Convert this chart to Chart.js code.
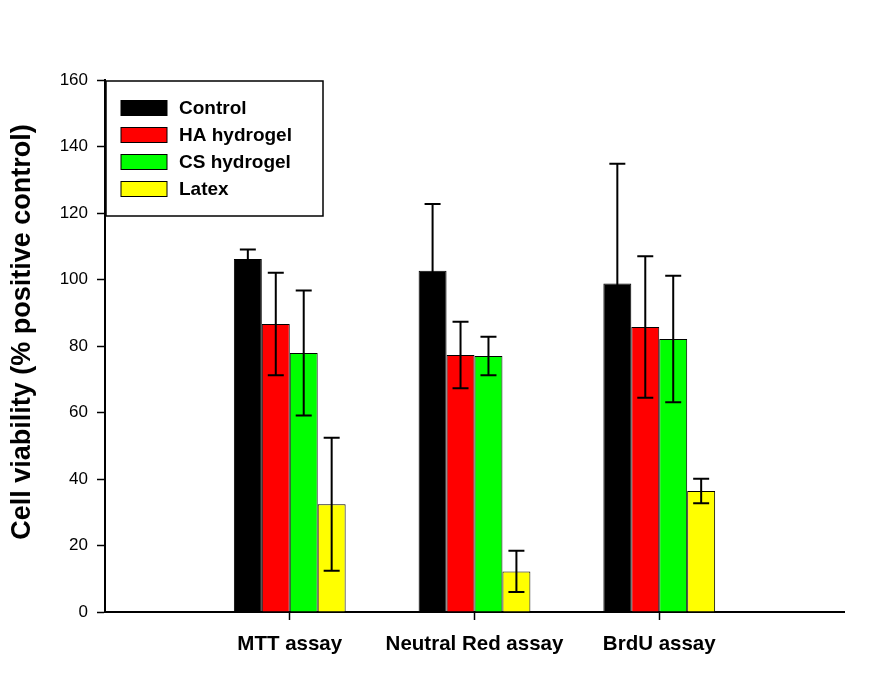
<!DOCTYPE html>
<html>
<head>
<meta charset="utf-8">
<script src="https://cdn.jsdelivr.net/npm/chart.js@4.4.1/dist/chart.umd.min.js"></script>
<style>
  body { margin: 0; background: #ffffff; }
  #wrap { width: 888px; height: 679px; }
</style>
</head>
<body>
<div id="wrap"><canvas id="viabilityChart" width="888" height="679"></canvas></div>
<script>
// assays on the x axis, empty slots at both ends keep the axis running 0..4
const assays = ['MTT assay', 'Neutral Red assay', 'BrdU assay'];
const seriesNames = ['Control', 'HA hydrogel', 'CS hydrogel', 'Latex'];
const seriesColors = ['#000000', '#ff0000', '#00ff00', '#ffff00'];

// means (% positive control)
const control = [106.2, 102.6, 98.8];
const haHydrogel = [86.6, 77.3, 85.7];
const csHydrogel = [77.9, 77.0, 82.1];
const latex = [32.4, 12.2, 36.4];

// error bar half-lengths
const controlErr = [2.8, 20.1, 36.0];
const haErr = [15.4, 10.0, 21.3];
const csErr = [18.8, 5.8, 19.0];
const latexErr = [20.0, 6.2, 3.7];

const yTicks = [0, 20, 40, 60, 80, 100, 120, 140, 160];
const yTitle = 'Cell viability (% positive control)';

const means = [control, haHydrogel, csHydrogel, latex];
const errs = [controlErr, haErr, csErr, latexErr];
const pad = arr => [null, ...arr, null];

const fontFamily = '"Liberation Sans", Arial, sans-serif';

// error bars: drawn on top of the bars through the y scale
const errorBars = {
    id: 'errorBars',
    afterDatasetsDraw(chart) {
        const ctx = chart.ctx;
        const yScale = chart.scales.y;
        ctx.save();
        ctx.strokeStyle = '#000000';
        ctx.lineWidth = 2;
        chart.data.datasets.forEach((ds, i) => {
            const meta = chart.getDatasetMeta(i);
            meta.data.forEach((bar, j) => {
                const v = ds.data[j];
                const e = ds.errors[j];
                if (v === null || e === null || e === undefined) return;
                const x = bar.x;
                const yTop = yScale.getPixelForValue(v + e);
                const yBot = yScale.getPixelForValue(v - e);
                const cap = 8;
                ctx.beginPath();
                ctx.moveTo(x, yTop);
                ctx.lineTo(x, yBot);
                ctx.moveTo(x - cap, yTop);
                ctx.lineTo(x + cap, yTop);
                ctx.moveTo(x - cap, yBot);
                ctx.lineTo(x + cap, yBot);
                ctx.stroke();
            });
        });
        ctx.restore();
    }
};

// boxed legend in the top-left corner of the plot, plus the y title
const boxLegend = {
    id: 'boxLegend',
    afterDraw(chart) {
        const ctx = chart.ctx;
        const area = chart.chartArea;
        const left = area.left + 1;
        const top = area.top + 1;
        ctx.save();
        ctx.fillStyle = '#ffffff';
        ctx.fillRect(left, top, 217, 135);
        ctx.strokeStyle = '#000000';
        ctx.lineWidth = 1.5;
        ctx.strokeRect(left, top, 217, 135);
        ctx.font = 'bold 19px ' + fontFamily;
        ctx.textBaseline = 'middle';
        chart.data.datasets.forEach((ds, i) => {
            const cy = top + 27 + i * 27;
            ctx.fillStyle = ds.backgroundColor;
            ctx.fillRect(left + 15, cy - 7.5, 46, 15);
            ctx.lineWidth = 1;
            ctx.strokeRect(left + 15, cy - 7.5, 46, 15);
            ctx.fillStyle = '#000000';
            ctx.fillText(ds.label, left + 73, cy + 1);
        });

        // y axis title, sits a little above the middle of the axis
        ctx.translate(23, (area.top + area.bottom) / 2 - 14);
        ctx.rotate(-Math.PI / 2);
        ctx.font = 'bold 27px ' + fontFamily;
        ctx.textAlign = 'center';
        ctx.textBaseline = 'middle';
        ctx.fillStyle = '#000000';
        ctx.fillText(yTitle, 0, 0);
        ctx.restore();
    }
};

const ctx = document.getElementById('viabilityChart').getContext('2d');
const myChart = new Chart(ctx, {
    type: 'bar',
    data: {
        labels: ['', ...assays, ''],
        datasets: seriesNames.map((name, i) => ({
            label: name,
            data: pad(means[i]),
            errors: pad(errs[i]),
            backgroundColor: seriesColors[i],
            borderColor: '#000000',
            borderWidth: 1,
            barPercentage: 1,
            categoryPercentage: 0.605,
        }))
    },
    options: {
        responsive: false,
        animation: false,
        layout: {
            padding: { top: 80, right: 44, bottom: 0, left: 0 }
        },
        scales: {
            x: {
                offset: false,
                afterFit: scale => { scale.height = 67; },
                grid: {
                    offset: false,
                    drawOnChartArea: false,
                    tickLength: 8,
                    tickWidth: 1.5,
                    tickColor: c => (c.index === 0 || c.index === 4) ? 'rgba(0,0,0,0)' : '#000000',
                },
                border: { color: '#000000', width: 2 },
                ticks: {
                    autoSkip: false,
                    maxRotation: 0,
                    padding: 12,
                    color: '#000000',
                    font: { family: fontFamily, size: 20.5, weight: 'bold' },
                }
            },
            y: {
                min: 0,
                max: 160,
                afterFit: scale => { scale.width = 105; },
                afterBuildTicks: scale => { scale.ticks = yTicks.map(v => ({ value: v })); },
                grid: {
                    drawOnChartArea: false,
                    tickLength: 8,
                    tickWidth: 1.5,
                    tickColor: '#000000',
                },
                border: { color: '#000000', width: 2 },
                ticks: {
                    padding: 9,
                    color: '#000000',
                    font: { family: fontFamily, size: 17 },
                }
            }
        },
        plugins: {
            legend: { display: false },
            tooltip: { enabled: false },
            title: { display: false }
        }
    },
    plugins: [errorBars, boxLegend]
});
</script>
</body>
</html>
